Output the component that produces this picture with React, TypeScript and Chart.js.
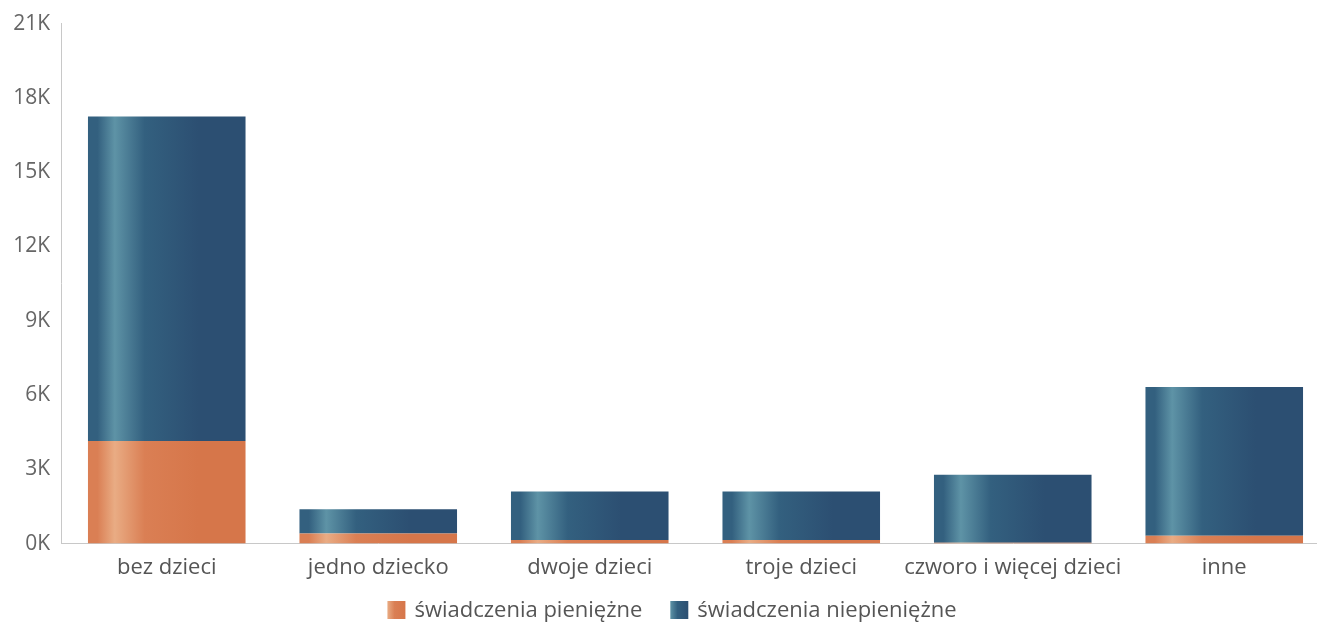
import React, { useEffect, useRef } from "react";
import { Chart, registerables } from "chart.js";

Chart.register(...registerables);

const categories = ["bez dzieci", "jedno dziecko", "dwoje dzieci", "troje dzieci", "czworo i więcej dzieci", "inne"];
const pieniezne = [4140, 410, 150, 150, 30, 320];
const niepieniezne = [13110, 980, 1950, 1950, 2750, 6000];
const yTicks = [0, 3000, 6000, 9000, 12000, 15000, 18000, 21000];
const seriesNames = ["świadczenia pieniężne", "świadczenia niepieniężne"];

const BAR_PCT = 0.745;
const FONT = "'Open Sans'";
const ORANGE = ["#da7f54", "#e9ac84", "#d6764a", "#d9784c"];
const BLUE = ["#33607f", "#5e93a6", "#2c4f72", "#2f5577"];

function gradientAt(c: CanvasRenderingContext2D, x0: number, x1: number, pal: string[]) {
  const g = c.createLinearGradient(x0, 0, x1, 0);
  g.addColorStop(0, pal[0]);
  g.addColorStop(0.06, pal[0]);
  g.addColorStop(0.17, pal[1]);
  g.addColorStop(0.36, pal[0]);
  g.addColorStop(0.7, pal[2]);
  g.addColorStop(1, pal[2]);
  return g;
}

function makeGradient(ctx: any, pal: string[]) {
  if (ctx.type !== "data") return pal[3];
  const chart = ctx.chart;
  const xs = chart.scales && chart.scales.x;
  if (!xs || !chart.chartArea) return pal[3];
  const cx = xs.getPixelForValue(ctx.dataIndex);
  const w = (xs.width / categories.length) * BAR_PCT;
  return gradientAt(chart.ctx, cx - w / 2, cx + w / 2, pal);
}

const legendPlugin = {
  id: "customLegend",
  afterDraw(chart: any) {
    const c: CanvasRenderingContext2D = chart.ctx;
    const box = 18;
    const gapText = 9;
    const gapItem = 28;
    const cy = 610;
    const centerX = 672;
    c.save();
    c.font = `22px ${FONT}`;
    c.textBaseline = "middle";
    c.textAlign = "left";
    const labels = chart.data.datasets.map((d: any) => d.label as string);
    const widths = labels.map((t: string) => c.measureText(t).width);
    const total = widths.reduce((a: number, w: number) => a + box + gapText + w, 0) + gapItem * (labels.length - 1);
    let x = centerX - total / 2;
    labels.forEach((t: string, i: number) => {
      const pal = i === 0 ? ORANGE : BLUE;
      const g = c.createLinearGradient(x, 0, x + box, 0);
      g.addColorStop(0, pal[1]);
      g.addColorStop(0.4, pal[0]);
      g.addColorStop(1, pal[2]);
      c.fillStyle = g;
      c.fillRect(x, cy - box / 2, box, box);
      x += box + gapText;
      c.fillStyle = "#555";
      c.fillText(t, x, cy + 1);
      x += widths[i] + gapItem;
    });
    c.restore();
  },
};

export default function App() {
  const ref = useRef<HTMLCanvasElement>(null);
  useEffect(() => {
    document.body.style.margin = "0";
    document.body.style.overflow = "hidden";
    const chart = new Chart(ref.current!, {
      type: "bar",
      data: {
        labels: categories,
        datasets: [
          {
            label: seriesNames[0],
            data: pieniezne,
            backgroundColor: (c: any) => makeGradient(c, ORANGE),
            borderWidth: 0,
          },
          {
            label: seriesNames[1],
            data: niepieniezne,
            backgroundColor: (c: any) => makeGradient(c, BLUE),
            borderWidth: 0,
          },
        ],
      },
      options: {
        animation: false,
        responsive: false,
        maintainAspectRatio: false,
        layout: { padding: { left: 0, right: 0, top: 4, bottom: 34 } },
        datasets: { bar: { categoryPercentage: 1, barPercentage: BAR_PCT } },
        plugins: {
          tooltip: { enabled: false },
          legend: { display: false },
        },
        scales: {
          x: {
            stacked: true,
            grid: { display: false, drawTicks: false },
            border: { display: true, color: "#c8c8c8", width: 1 },
            ticks: { color: "#555", padding: 11, autoSkip: false, font: { family: FONT, size: 22 }, maxRotation: 0 },
          },
          y: {
            stacked: true,
            min: 0,
            max: 21000,
            afterFit: (s: any) => { s.width = 61; },
            afterBuildTicks: (s: any) => { s.ticks = yTicks.map((v) => ({ value: v })); },
            grid: { display: false, drawTicks: false },
            border: { display: true, color: "#c8c8c8", width: 1 },
            ticks: {
              color: "#666",
              padding: 11,
              font: { family: FONT, size: 21 },
              callback: (v: any) => `${Number(v) / 1000}K`,
            },
          },
        },
      },
      plugins: [legendPlugin],
    });
    return () => chart.destroy();
  }, []);
  return (
    <div style={{ position: "fixed", left: 0, top: 0, width: 1330, height: 626 }}>
      <canvas ref={ref} width={1330} height={626} style={{ display: "block" }} />
    </div>
  );
}
